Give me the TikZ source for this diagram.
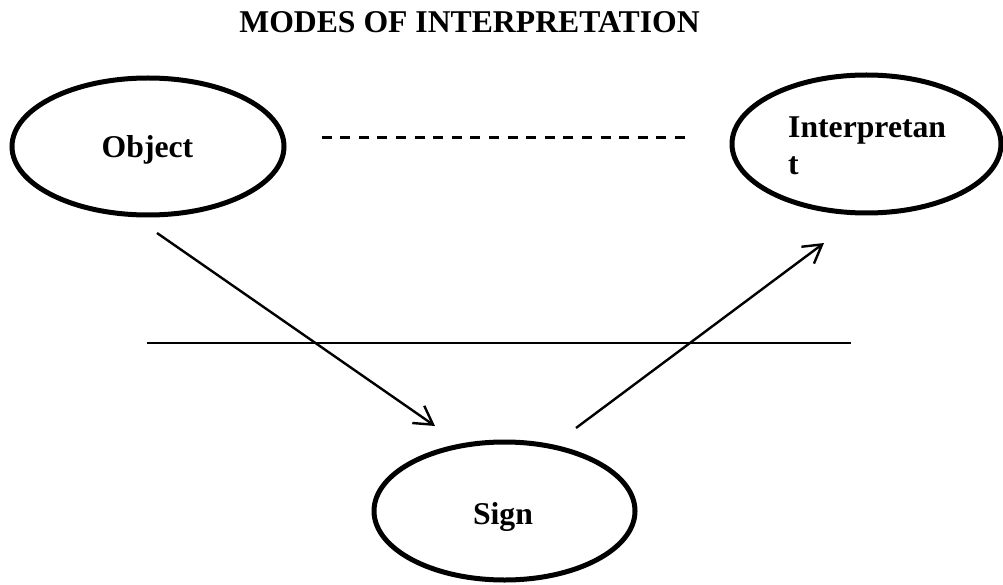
\documentclass[tikz,border=0pt]{standalone}
\usepackage{fontspec}
\setmainfont{Liberation Serif}
\usetikzlibrary{arrows.meta,shapes.geometric}

\begin{document}
\begin{tikzpicture}[x=1pt, y=-1pt,
  oval/.style={draw, line width=5pt, ellipse, inner sep=0pt},
  lbl/.style={font=\fontsize{31.7}{37}\selectfont\bfseries, inner sep=0pt},
  thin line/.style={line width=2.4pt},
  link/.style={thin line, -{Straight Barb[length=18pt, width=21pt, line width=2.4pt]}}
]
\useasboundingbox (0,0) rectangle (1003,585);

% title
\node[lbl, anchor=base] (title) at (469.5,33) {MODES OF INTERPRETATION};

% the three ovals
\node[oval, minimum width=272pt, minimum height=137pt] (object) at (148,146.5) {};
\node[oval, minimum width=269pt, minimum height=138pt] (interp) at (866.5,144) {};
\node[oval, minimum width=261pt, minimum height=138pt] (sign) at (504.5,511) {};

% their labels
\node[lbl, anchor=base] (objectlbl) at (147.5,158) {Object};
\node[lbl, anchor=base west] (interplbl1) at (788,138) {Interpretan};
\node[lbl, anchor=base west] (interplbl2) at (788,175) {t};
\node[lbl, anchor=base] (signlbl) at (503,524) {Sign};

% line ends
\coordinate (d1) at (321.7,137.5);
\coordinate (d2) at (685,137.5);
\coordinate (h1) at (147,343);
\coordinate (h2) at (851,343);
\coordinate (a1) at (157,233);
\coordinate (a2) at (435,426);
\coordinate (b1) at (576,428);
\coordinate (b2) at (824,243);

\draw[thin line, line width=2.8pt, dash pattern=on 10pt off 8.59pt] (d1) -- (d2);
\draw[thin line] (h1) -- (h2);
\draw[link] (a1) -- (a2);
\draw[link] (b1) -- (b2);
\end{tikzpicture}
\end{document}
